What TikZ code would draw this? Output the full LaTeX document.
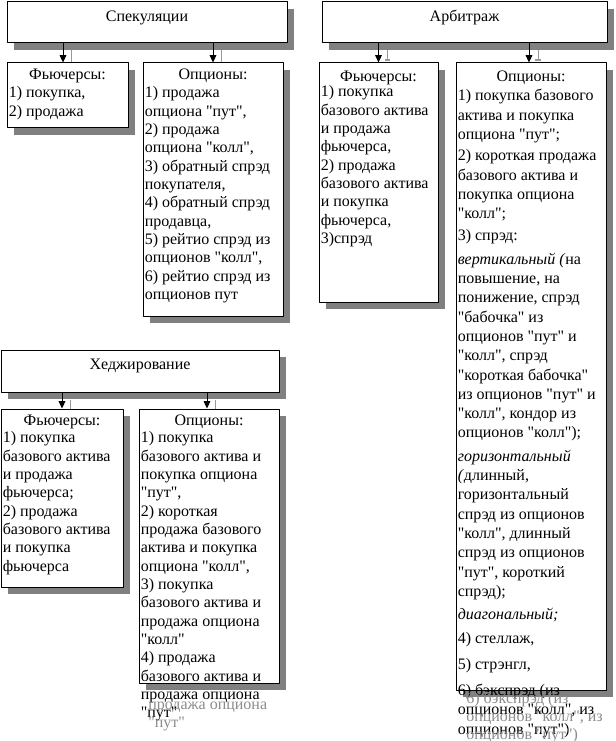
\documentclass[tikz,border=0pt]{standalone}
\usepackage{fontspec}
\setmainfont{Liberation Serif}[Ligatures=TeXOff]
\usetikzlibrary{arrows.meta,shadows,calc}

\tikzset{
  panel/.style={draw, fill=white, line width=0.75pt, inner sep=0pt,
    drop shadow={shadow xshift=5.25pt, shadow yshift=-5.25pt, opacity=1, fill=black!50}},
  headtxt/.style={anchor=base, inner sep=0pt, font=\fontsize{12}{13.75}\selectfont},
  bodytxt/.style={anchor=north west, align=left, inner sep=0pt,
    font=\fontsize{12}{13.75}\selectfont},
  ghost/.style={bodytxt, text=black!45},
  feed/.style={line width=0.75pt, -{Triangle[width=5pt,length=5.5pt]}},
  feedshade/.style={black!40, line width=0.75pt}
}

\begin{document}
\begin{tikzpicture}[x=0.75pt, y=-0.75pt, line join=round]
  \fill[white] (0,0) rectangle (616,741);
  \useasboundingbox (0,0) rectangle (616,741);

  % 标题框
  \node[panel, minimum width=210pt, minimum height=30.75pt] (spec) at (147,22.5) {};
  \node[panel, minimum width=213.75pt, minimum height=30.75pt] (arb) at (464.5,22.5) {};
  \node[panel, minimum width=208.5pt, minimum height=31.5pt] (hedge) at (140,371) {};
  \node[headtxt] at ([yshift=-15pt]spec.north) {Спекуляции};
  \node[headtxt] at ([yshift=-15pt]arb.north) {Арбитраж};
  \node[headtxt] at ([yshift=-15pt]hedge.north) {Хеджирование};

  % 下层的框
  \node[panel, minimum width=90.75pt, minimum height=48.75pt] (specfut) at (67.5,95.5) {};
  \node[panel, minimum width=105pt, minimum height=189.75pt] (specopt) at (213,189.5) {};
  \node[panel, minimum width=89.25pt, minimum height=179.25pt] (arbfut) at (378.5,182.5) {};
  \node[panel, minimum width=112.5pt, minimum height=470.25pt] (arbopt) at (531,376.5) {};
  \node[panel, minimum width=91.5pt, minimum height=133.5pt] (hedgefut) at (62,498) {};
  \node[panel, minimum width=105pt, minimum height=205.5pt] (hedgeopt) at (209,546) {};

  % 框内标题
  \node[headtxt] at ([yshift=-13.1pt]specfut.north) {Фьючерсы:};
  \node[headtxt] at ([yshift=-13.1pt]specopt.north) {Опционы:};
  \node[headtxt] at ([yshift=-14.25pt]arbfut.north) {Фьючерсы:};
  \node[headtxt] at ([yshift=-14.25pt]arbopt.north) {Опционы:};
  \node[headtxt] at ([yshift=-13.1pt]hedgefut.north) {Фьючерсы:};
  \node[headtxt] at ([yshift=-13.1pt]hedgeopt.north) {Опционы:};

  % 框内列表
  \node[bodytxt] (specfutlist) at ([shift={(1.5pt,-16.6pt)}]specfut.north west)
    {\strut 1) покупка,\\ 2) продажа};
  \node[bodytxt] (specoptlist) at ([shift={(1.5pt,-16.6pt)}]specopt.north west)
    {\strut 1) продажа\\ опциона "пут",\\ 2) продажа\\ опциона "колл",\\
     3) обратный спрэд\\ покупателя,\\ 4) обратный спрэд\\ продавца,\\
     5) рейтио спрэд из\\ опционов "колл",\\ 6) рейтио спрэд из\\ опционов пут};
  \node[bodytxt] (arbfutlist) at ([shift={(1.5pt,-15.9pt)}]arbfut.north west)
    {\strut 1) покупка\\ базового актива\\ и продажа\\ фьючерса,\\ 2) продажа\\
     базового актива\\ и покупка\\ фьючерса,\\ 3)спрэд};
  \node[bodytxt, font=\fontsize{12}{14.475}\selectfont] (arboptlist)
    at ([shift={(1.5pt,-18.4pt)}]arbopt.north west)
    {\strut 1) покупка базового\\ актива и покупка\\ опциона "пут";\\[1.5pt]
     2) короткая продажа\\ базового актива и\\ покупка опциона\\ "колл";\\[2.25pt]
     3) спрэд:\\[3pt]
     \textit{вертикальный (}на\\ повышение, на\\ понижение, спрэд\\ "бабочка" из\\
     опционов "пут" и\\ "колл", спрэд\\ "короткая бабочка"\\ из опционов "пут" и\\
     "колл", кондор из\\ опционов "колл");\\[3pt]
     \textit{горизонтальный}\\ \textit{(}длинный,\\ горизонтальный\\ спрэд из опционов\\
     "колл", длинный\\ спрэд из опционов\\ "пут", короткий\\ спрэд);\\[3pt]
     \textit{диагональный;}\\[3.75pt]
     4) стеллаж,\\[4.5pt]
     5) стрэнгл,\\[5.25pt]
     6) бэкспрэд (из\\ опционов "колл", из\\ опционов "пут")};
  \node[bodytxt] (hedgefutlist) at ([shift={(1.5pt,-15.9pt)}]hedgefut.north west)
    {\strut 1) покупка\\ базового актива\\ и продажа\\ фьючерса;\\ 2) продажа\\
     базового актива\\ и покупка\\ фьючерса};
  \node[bodytxt] (hedgeoptlist) at ([shift={(1.5pt,-15.9pt)}]hedgeopt.north west)
    {\strut 1) покупка\\ базового актива и\\ покупка опциона\\ "пут",\\ 2) короткая\\
     продажа базового\\ актива и покупка\\ опциона "колл",\\ 3) покупка\\
     базового актива и\\ продажа опциона\\ "колл"\\ 4) продажа\\
     базового актива и\\ продажа опциона\\ "пут"};

  % 溢出的灰色重影
  \node[ghost] (arbghost) at (466,690) {\strut 6) бэкспрэд (из\\ опционов "колл", из\\ опционов "пут")};
  \node[ghost] (hedgeghost) at (148,696) {\strut продажа опциона\\ "пут"};

  % 箭头
  \draw[feed] ($(specfut.north |- spec.south)+(-4.5,0)$) -- ($(specfut.north)+(-4.5,0)$);
  \draw[feedshade] ($(specfut.north |- spec.south)+(4,7)$) -- ($(specfut.north)+(4,0)$);
  \draw[feed] (specopt.north |- spec.south) -- (specopt.north);
  \draw[feedshade] ($(specopt.north |- spec.south)+(8,7)$) -- ($(specopt.north)+(8,0)$);
  \draw[feed] (arbfut.north |- arb.south) -- (arbfut.north);
  \draw[feedshade, -{Bar[width=4pt, line width=1.2pt]}]
    ($(arbfut.north |- arb.south)+(9,7)$) -- ($(arbfut.north)+(9,-1.5)$);
  \draw[feed] ($(arbopt.north |- arb.south)+(-2,0)$) -- ($(arbopt.north)+(-2,0)$);
  \draw[feedshade, -{Bar[width=4pt, line width=1.2pt]}]
    ($(arbopt.north |- arb.south)+(7,7)$) -- ($(arbopt.north)+(7,-1.5)$);
  \draw[feed] (hedgefut.north |- hedge.south) -- (hedgefut.north);
  \draw[feedshade] ($(hedgefut.north |- hedge.south)+(8,7)$) -- ($(hedgefut.north)+(8,0)$);
  \draw[feed] ($(hedgeopt.north |- hedge.south)+(-2,0)$) -- ($(hedgeopt.north)+(-2,0)$);
  \draw[feedshade] ($(hedgeopt.north |- hedge.south)+(6,7)$) -- ($(hedgeopt.north)+(6,0)$);
\end{tikzpicture}
\end{document}
